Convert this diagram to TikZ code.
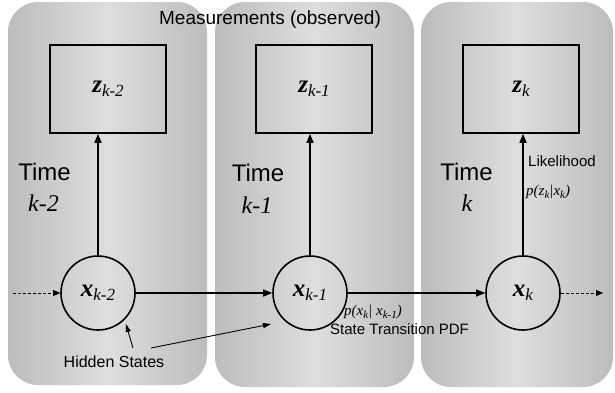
\documentclass[tikz,border=0pt]{standalone}
\usepackage{fontspec}
\setmainfont{Liberation Sans}
\newfontfamily\tms{Liberation Serif}
\usetikzlibrary{arrows.meta,calc}
\newcommand\sbs[2]{\raisebox{-0.35ex}{\fontsize{#1}{#1}\selectfont #2}}
\definecolor{pedge}{RGB}{188,188,188}
\definecolor{pmid}{RGB}{222,222,222}
\tikzset{
  panel/.style={rounded corners=30pt, left color=pedge, right color=pedge, middle color=pmid, draw=none},
  obsbox/.style={draw, line width=1.6pt, minimum width=116pt, minimum height=88pt, inner sep=0pt},
  statec/.style={draw, circle, line width=1.6pt, minimum size=74pt, inner sep=0pt},
  arr/.style={line width=1.5pt, -{Triangle[length=9pt,width=7pt]}},
  darr/.style={line width=1pt, dashed, dash pattern=on 3pt off 2pt, -{Triangle[length=7pt,width=6pt]}},
  thinarr/.style={line width=0.9pt, -{Triangle[length=8pt,width=5pt]}},
  lbl/.style={inner sep=0pt, font=\fontsize{15}{15}\selectfont},
  tlbl/.style={inner sep=0pt, font=\fontsize{24}{24}\selectfont},
  klbl/.style={inner sep=0pt, font=\tms\itshape\fontsize{24}{24}\selectfont},
  plbl/.style={inner sep=0pt, font=\tms\itshape\fontsize{15}{15}\selectfont},
}
\begin{document}
\begin{tikzpicture}[x=1pt,y=-1pt]
\useasboundingbox (0,0) rectangle (615,392);
\fill[white] (0,0) rectangle (615,392);
% panels
\path[panel] (8,2) rectangle (207,385);
\path[panel] (215,2) rectangle (414,387);
\path[panel] (421,2) rectangle (613,387);
% title
\node[inner sep=0pt, font=\fontsize{19}{19}\selectfont] (meas) at (270,20) {Measurements (observed)};
% measurement boxes
\node[obsbox] (z1) at (108,89) {\tms\bfseries\itshape\fontsize{25}{25}\selectfont z\sbs{17}{\mdseries k-2}};
\node[obsbox] (z2) at (314,89) {\tms\bfseries\itshape\fontsize{25}{25}\selectfont z\sbs{17}{\mdseries k-1}};
\node[obsbox] (z3) at (521,89) {\tms\bfseries\itshape\fontsize{25}{25}\selectfont z\sbs{17}{\mdseries k}};
% state circles
\node[statec] (x1) at (98,293) {\tms\bfseries\itshape\fontsize{25}{25}\selectfont x\sbs{17}{\mdseries k-2}};
\node[statec] (x2) at (310,293) {\tms\bfseries\itshape\fontsize{25}{25}\selectfont x\sbs{17}{\mdseries k-1}};
\node[statec] (x3) at (523,293) {\tms\bfseries\itshape\fontsize{25}{25}\selectfont x\sbs{17}{\mdseries k}};
% time labels
\node[tlbl] (t1) at (44.5,172) {Time};
\node[klbl] (k1) at (43.5,203) {k-2};
\node[tlbl] (t2) at (258,173) {Time};
\node[klbl] (k2) at (257,205) {k-1};
\node[tlbl] (t3) at (466.5,172) {Time};
\node[klbl] (k3) at (467,203) {k};
% coordinates for free ends
\coordinate (inL) at (13,293);
\coordinate (outR) at (603,293);
\coordinate (hs1) at (133,348);
\coordinate (hs1t) at (126,324);
\coordinate (hs2) at (151,348);
\coordinate (hs2t) at (271,324);
% arrows
\draw[arr] (x1.north) -- (x1.north |- z1.south);
\draw[arr] (x2.north) -- (x2.north |- z2.south);
\draw[arr] (x3.north) -- (x3.north |- z3.south);
\draw[arr] (x1.east) -- (x2.west);
\draw[arr] (x2.east) -- (x3.west);
\draw[darr] (inL) -- (x1.west);
\draw[darr] (x3.east) -- (outR);
\draw[thinarr] (hs1) -- (hs1t);
\draw[thinarr] (hs2) -- (hs2t);
% labels
\node[lbl, anchor=west] (lik) at (528,161) {Likelihood};
\node[plbl, anchor=west] (pz) at (526,192) {p(z\sbs{11}{k}|x\sbs{11}{k})};
\node[plbl, anchor=west] (px) at (344,312) {p(x\sbs{11}{k}| x\sbs{11}{k-1})};
\node[lbl, anchor=west] (stp) at (330,329) {State Transition PDF};
\node[lbl, font=\fontsize{16}{16}\selectfont] (hid) at (114,362) {Hidden States};
\end{tikzpicture}
\end{document}
